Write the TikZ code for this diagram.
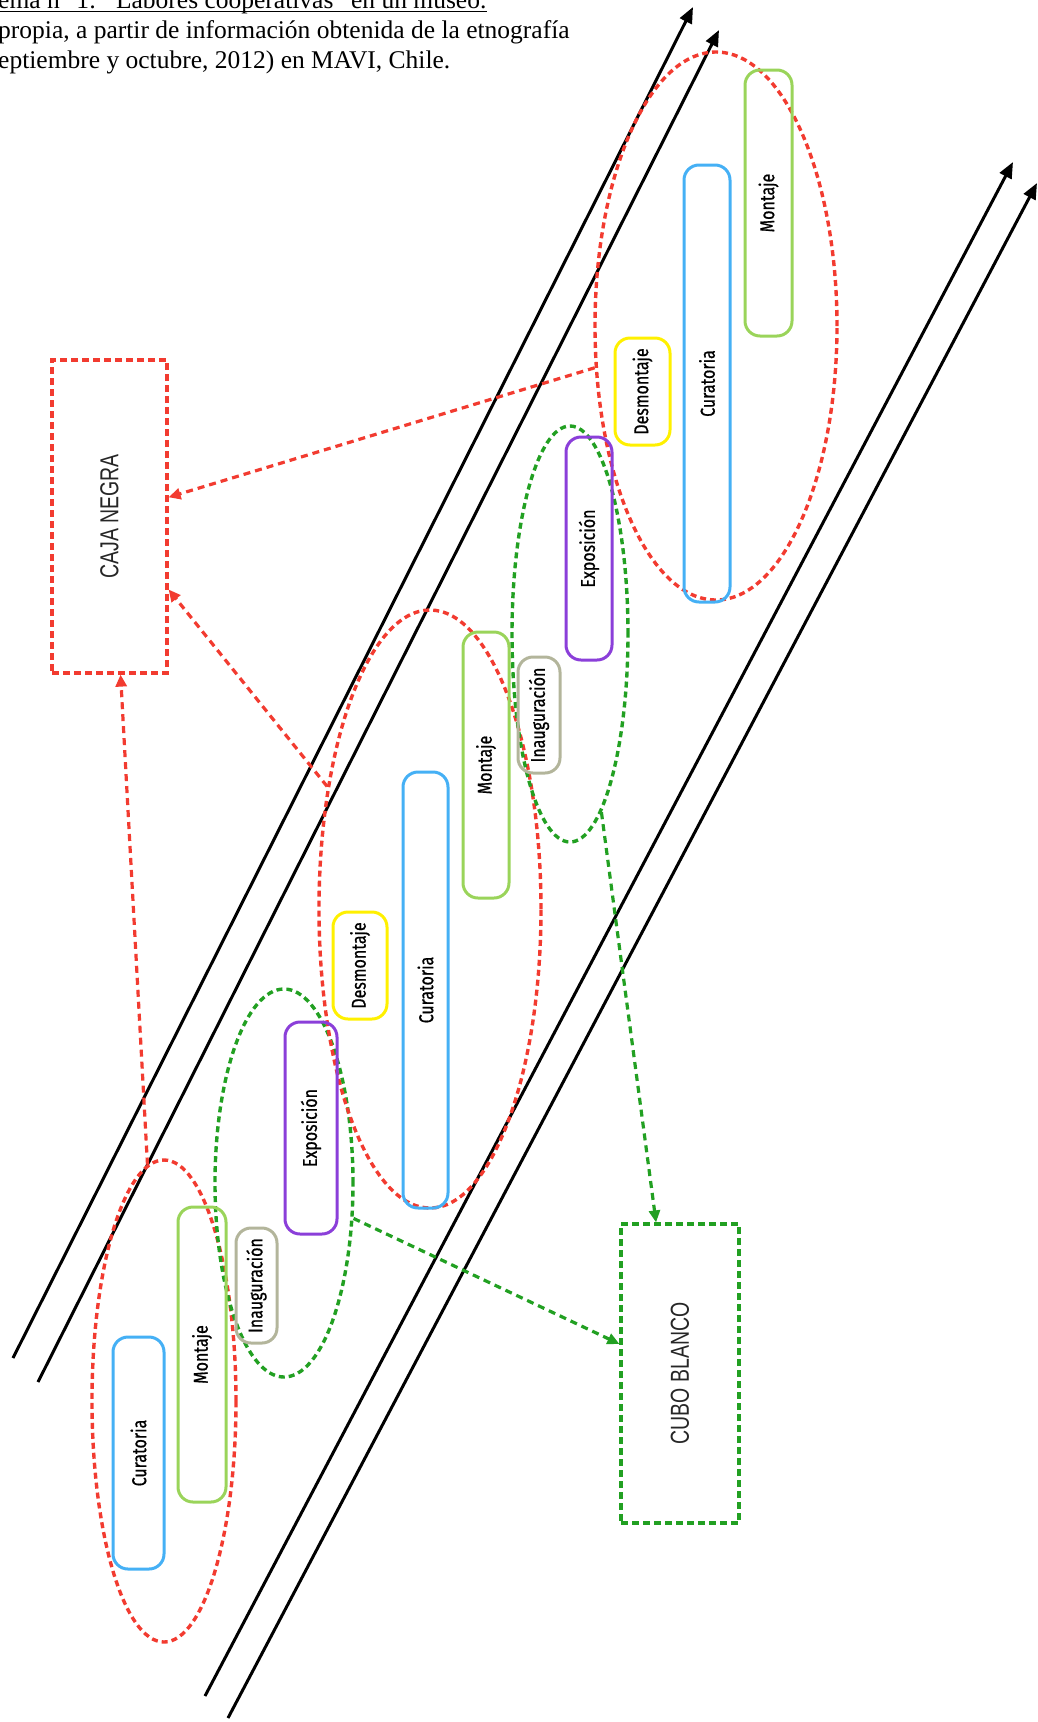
\documentclass[tikz,border=0pt]{standalone}
\usepackage{fontspec}
\setmainfont{Liberation Serif}
\newfontfamily\labfont[FakeStretch=0.8,FakeBold=0.8]{Fira Sans}
\newfontfamily\framefont[FakeStretch=0.75]{Liberation Sans}
\usepackage{graphicx}
\usepackage{tikz}
\usetikzlibrary{shapes}
\usetikzlibrary{arrows.meta}
\definecolor{cblue}{HTML}{45B0F5}
\definecolor{cgreen}{HTML}{9AD45A}
\definecolor{cgray}{HTML}{B3B59B}
\definecolor{cpurple}{HTML}{8B3FD9}
\definecolor{cyellow}{HTML}{FFF000}
\definecolor{cred}{HTML}{F23B30}
\definecolor{cdgreen}{HTML}{22A022}
\tikzset{
    mybox/.style = {rectangle, rounded corners=15pt, line width=3pt, inner sep=0pt, minimum width=46pt, font=\labfont\fontsize{20}{20}\selectfont, text=black},
    myboxb/.style = {mybox, draw=cblue},
    myboxg/.style = {mybox, draw=cgreen},
    myboxgr/.style = {mybox, draw=cgray},
    myboxp/.style = {mybox, draw=cpurple},
    myboxy/.style = {mybox, draw=cyellow},
    myframe/.style = {rectangle, line width=3.2pt, dash pattern=on 7pt off 4pt, inner sep=0pt, font=\framefont\fontsize{26}{26}\selectfont, text=black!85},
    myframer/.style = {myframe, draw=cred},
    myframeg/.style = {myframe, draw=cdgreen},
    myell/.style = {ellipse, line width=3.4pt, dash pattern=on 6pt off 4pt, inner sep=0pt},
    myellr/.style = {myell, draw=cred},
    myellg/.style = {myell, draw=cdgreen},
    edgen/.style = {-{Triangle[length=16pt,width=13pt]}, line width=3pt, black},
    edger/.style = {-{Triangle[length=12pt,width=11pt]}, line width=3.2pt, cred, dash pattern=on 7pt off 5pt},
    edgeg/.style = {-{Triangle[length=12pt,width=11pt]}, line width=3.2pt, cdgreen, dash pattern=on 7pt off 5pt}
}

\begin{document}
\begin{tikzpicture}[x=1pt,y=-1pt]
\useasboundingbox (0,0) rectangle (1038,1722);

% header
\node[anchor=base west, inner sep=0, font=\fontsize{25.5}{25.5}\selectfont] at (-2,  8) (tit) {ema n° 1: “Labores cooperativas” en un museo.};
\node[anchor=base west, inner sep=0, font=\fontsize{25.5}{25.5}\selectfont] at (-2, 38) (src) {propia, a partir de información obtenida de la etnografía};
\node[anchor=base west, inner sep=0, font=\fontsize{25.5}{25.5}\selectfont] at (-2, 68) (dat) {eptiembre y octubre, 2012) en MAVI, Chile.};
\draw[line width=1.4pt] ([yshift=-3.5pt]tit.base west) -- ([yshift=-3.5pt]tit.base east);

% time lines
\coordinate (a1) at (  13, 1358); \coordinate (a2) at ( 693,    7);
\coordinate (b1) at (  38, 1382); \coordinate (b2) at ( 719,   30);
\coordinate (c1) at ( 205, 1696); \coordinate (c2) at (1013,  162);
\coordinate (d1) at ( 228, 1718); \coordinate (d2) at (1037,  183);
\path (a1) edge[edgen] (a2);
\path (b1) edge[edgen] (b2);
\path (c1) edge[edgen] (c2);
\path (d1) edge[edgen] (d2);

% groups
\node[myellr, minimum width=144pt, minimum height=482pt] at ( 164, 1401) (ell1) {};
\node[myellg, minimum width=138pt, minimum height=388pt] at ( 284, 1183) (gell1) {};
\node[myellr, minimum width=222pt, minimum height=598pt] at ( 430,  909) (ell2) {};
\node[myellg, minimum width=116pt, minimum height=416pt] at ( 570,  634) (gell2) {};
\node[myellr, minimum width=242pt, minimum height=548pt] at ( 716,  326) (ell3) {};

\node[myboxb,  minimum width=51pt, minimum height=232pt] at ( 138.5, 1453.0) (cur1) {\rotatebox{90}{Curatoria}};
\node[myboxg,  minimum width=48pt, minimum height=295pt] at ( 202.0, 1354.5) (mon1) {\rotatebox{90}{Montaje}};
\node[myboxgr, minimum width=41pt, minimum height=115pt] at ( 256.5, 1285.5) (ina1) {\rotatebox{90}{Inauguración}};
\node[myboxp,  minimum width=52pt, minimum height=212pt] at ( 311.0, 1128.0) (exp1) {\rotatebox{90}{Exposición}};

\node[myboxy,  minimum width=54pt, minimum height=107pt] at ( 360.0,  965.5) (des2) {\rotatebox{90}{Desmontaje}};
\node[myboxb,  minimum width=45pt, minimum height=436pt] at ( 425.5,  990.0) (cur2) {\rotatebox{90}{Curatoria}};
\node[myboxg,  minimum width=46pt, minimum height=266pt] at ( 486.0,  765.0) (mon2) {\rotatebox{90}{Montaje}};
\node[myboxgr, minimum width=42pt, minimum height=116pt] at ( 539.0,  715.0) (ina2) {\rotatebox{90}{Inauguración}};
\node[myboxp,  minimum width=46pt, minimum height=223pt] at ( 589.0,  548.5) (exp2) {\rotatebox{90}{Exposición}};

\node[myboxy,  minimum width=55pt, minimum height=107pt] at ( 642.5,  391.5) (des3) {\rotatebox{90}{Desmontaje}};
\node[myboxb,  minimum width=46pt, minimum height=437pt] at ( 707.0,  383.5) (cur3) {\rotatebox{90}{Curatoria}};
\node[myboxg,  minimum width=47pt, minimum height=266pt] at ( 768.5,  203.0) (mon3) {\rotatebox{90}{Montaje}};

% black box / white cube
\node[myframer, minimum width=115pt, minimum height=313pt] at ( 109.5,  516.5) (caja) {\rotatebox{90}{CAJA NEGRA}};
\node[myframeg, minimum width=118pt, minimum height=299pt] at ( 680.0, 1373.5) (cubo) {\rotatebox{90}{CUBO BLANCO}};

\path (ell3.199) edge[edger] (caja.18);
\path (ell2.130) edge[edger] (caja.-51);
\path (ell1.94) edge[edger] (caja.-86);
\path (gell2.-80) edge[edgeg] (cubo.99);
\path (gell1.-27) edge[edgeg] (cubo.154);

\end{tikzpicture}
\end{document}
